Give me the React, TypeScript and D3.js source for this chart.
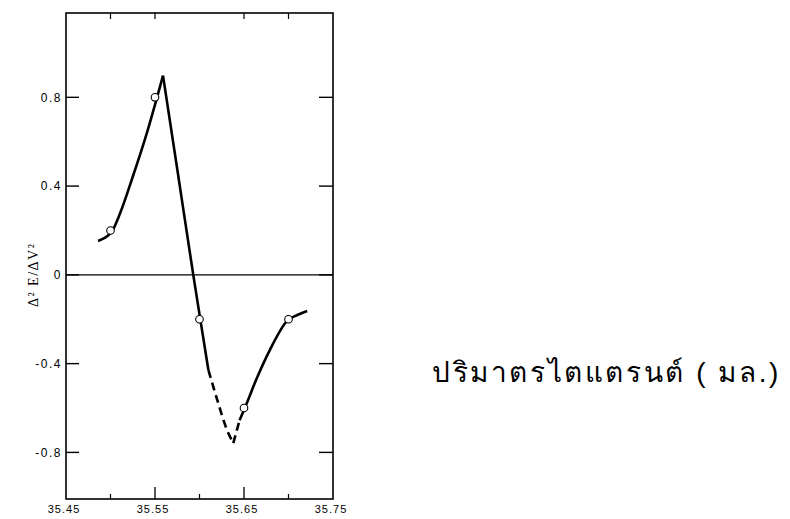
import React, { useRef, useEffect } from "react";
import * as d3 from "d3";

// measured points (titrant volume, second derivative)
const volumes = [35.5, 35.55, 35.6, 35.65, 35.7];
const secondDeriv = [0.2, 0.8, -0.2, -0.6, -0.2];

// hand drawn curve through the points
const riseX = [35.486, 35.502, 35.511, 35.525, 35.541, 35.552, 35.559];
const riseY = [0.153, 0.199, 0.28, 0.442, 0.641, 0.795, 0.898];
const fallX = [35.559, 35.576, 35.593, 35.601, 35.61];
const fallY = [0.898, 0.45, 0, -0.203, -0.429];
const fallDashX = [35.61, 35.62, 35.631, 35.638];
const fallDashY = [-0.429, -0.564, -0.7, -0.758];
const riseDashX = [35.638, 35.645];
const riseDashY = [-0.758, -0.655];
const recoverX = [35.645, 35.65, 35.665, 35.679, 35.699, 35.71, 35.721];
const recoverY = [-0.655, -0.609, -0.46, -0.339, -0.205, -0.181, -0.163];

const xLabels = ["35.45", "35.55", "35.65", "35.75"];
const xMajorTicks = [35.55, 35.65];
const xMinorTicks = [35.5, 35.6, 35.7];
const xTopTicks = [35.5, 35.55, 35.65, 35.7];
const yTicks = [0.8, 0.4, 0, -0.4, -0.8];
const yTickLabels = ["0.8", "0.4", "0", "-0.4", "-0.8"];

const yTitle = "Δ² E/ΔV²";
const xTitle = "ปริมาตรไตแตรนต์ ( มล.)";

const W = 790;
const H = 519;

const SecondDerivChart = () => {
    const ref = useRef<SVGSVGElement>(null);

    useEffect(() => {
        const svg = d3.select(ref.current);
        svg.selectAll("*").remove();

        const left = 66,
            right = 333,
            top = 13,
            bottom = 499;
        const x = d3.scaleLinear().domain([35.45, 35.75]).range([left, right]);
        const y = d3.scaleLinear().domain([-1.01, 1.18]).range([bottom, top]);

        svg.append("rect")
            .attr("width", W)
            .attr("height", H)
            .attr("fill", "#fff");

        // frame
        svg.append("rect")
            .attr("x", left)
            .attr("y", top)
            .attr("width", right - left)
            .attr("height", bottom - top)
            .attr("fill", "none")
            .attr("stroke", "#000")
            .attr("stroke-width", 1.6);

        // zero line
        svg.append("line")
            .attr("x1", left)
            .attr("x2", right)
            .attr("y1", y(0))
            .attr("y2", y(0))
            .attr("stroke", "#000")
            .attr("stroke-width", 1.3);

        // y ticks, both sides, inward
        yTicks.forEach((t, i) => {
            svg.append("line")
                .attr("x1", left)
                .attr("x2", left + 13)
                .attr("y1", y(t))
                .attr("y2", y(t))
                .attr("stroke", "#000")
                .attr("stroke-width", 1.4);
            svg.append("line")
                .attr("x1", right - 14)
                .attr("x2", right)
                .attr("y1", y(t))
                .attr("y2", y(t))
                .attr("stroke", "#000")
                .attr("stroke-width", 1.4);
            svg.append("text")
                .text(yTickLabels[i])
                .attr("x", left - 4)
                .attr("y", y(t))
                .attr("dy", "0.35em")
                .attr("text-anchor", "end")
                .style("font-family", "Liberation Sans, Arial, sans-serif")
                .style("font-size", "12px")
                .style("letter-spacing", "1.5px");
        });

        // x ticks
        xMajorTicks.forEach((t) => {
            svg.append("line")
                .attr("x1", x(t))
                .attr("x2", x(t))
                .attr("y1", bottom)
                .attr("y2", bottom - 12)
                .attr("stroke", "#000")
                .attr("stroke-width", 1.3);
        });
        xMinorTicks.forEach((t) => {
            svg.append("line")
                .attr("x1", x(t))
                .attr("x2", x(t))
                .attr("y1", bottom)
                .attr("y2", bottom - 5)
                .attr("stroke", "#000")
                .attr("stroke-width", 1.2);
        });
        xTopTicks.forEach((t) => {
            svg.append("line")
                .attr("x1", x(t))
                .attr("x2", x(t))
                .attr("y1", top)
                .attr("y2", top + 6)
                .attr("stroke", "#000")
                .attr("stroke-width", 1.2);
        });
        xLabels.forEach((l) => {
            svg.append("text")
                .text(l)
                .attr("x", x(+l) - 2)
                .attr("y", bottom + 14)
                .attr("text-anchor", "middle")
                .style("font-family", "Liberation Sans, Arial, sans-serif")
                .style("font-size", "11px")
                .style("letter-spacing", "1px");
        });

        // y title
        svg.append("text")
            .text(yTitle)
            .attr("transform", `translate(38,${y(0)}) rotate(-90)`)
            .attr("text-anchor", "middle")
            .style("font-family", "Liberation Serif, serif")
            .style("font-size", "14px")
            .style("letter-spacing", "1.5px");

        // x title, placed off to the right
        svg.append("text")
            .text(xTitle)
            .attr("x", 432)
            .attr("y", 382)
            .style("font-family", "sans-serif")
            .style("font-size", "28px")
            .style("letter-spacing", "2.6px");

        const toPts = (xs: number[], ys: number[]) =>
            xs.map((v, i) => [x(v), y(ys[i])] as [number, number]);
        const line = d3.line().curve(d3.curveMonotoneX);

        const drawSeg = (xs: number[], ys: number[], dashed: boolean) => {
            svg.append("path")
                .attr("d", line(toPts(xs, ys)))
                .attr("fill", "none")
                .attr("stroke", "#000")
                .attr("stroke-width", 2.6)
                .attr("stroke-dasharray", dashed ? "8 5" : null);
        };
        drawSeg(riseX, riseY, false);
        drawSeg(fallX, fallY, false);
        drawSeg(fallDashX, fallDashY, true);
        drawSeg(riseDashX, riseDashY, true);
        drawSeg(recoverX, recoverY, false);

        // open circles for measured points
        svg.selectAll("circle.pt")
            .data(volumes)
            .enter()
            .append("circle")
            .attr("class", "pt")
            .attr("cx", (d) => x(d))
            .attr("cy", (d, i) => y(secondDeriv[i]))
            .attr("r", 3.8)
            .attr("fill", "#fff")
            .attr("stroke", "#000")
            .attr("stroke-width", 1.1);
    });

    return (
        <svg
            ref={ref}
            width={W}
            height={H}
            style={{ position: "absolute", left: 0, top: 0, display: "block" }}
        />
    );
};

export default function App() {
    return <SecondDerivChart />;
}
